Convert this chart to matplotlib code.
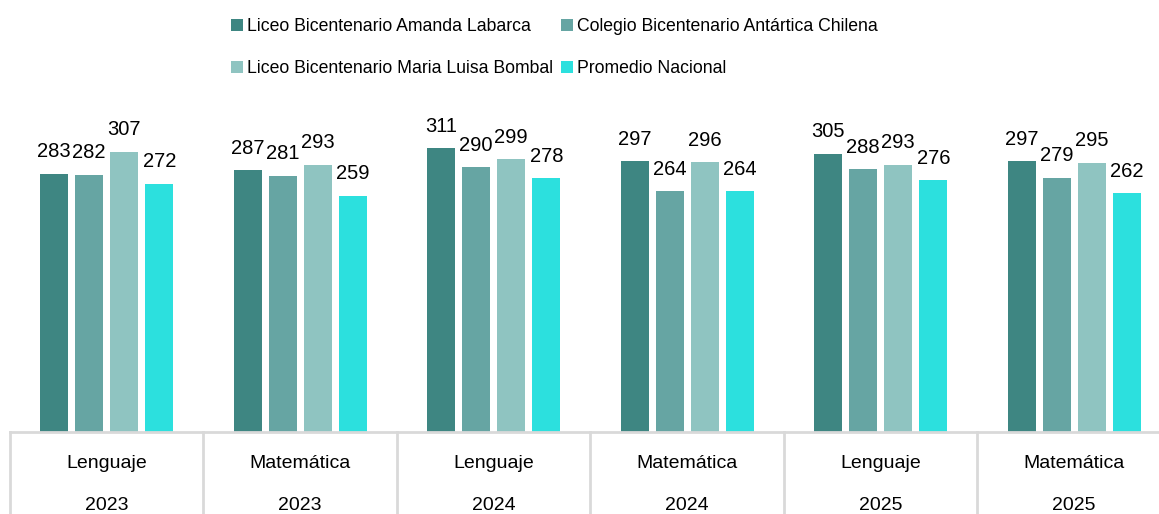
import matplotlib.pyplot as plt
import numpy as np

plt.rcParams['font.family'] = ['Liberation Sans', 'DejaVu Sans']

subjects = ["Lenguaje", "Matemática", "Lenguaje", "Matemática", "Lenguaje", "Matemática"]
years = ["2023", "2023", "2024", "2024", "2025", "2025"]
series_names = ["Liceo Bicentenario Amanda Labarca",
                "Colegio Bicentenario Antártica Chilena",
                "Liceo Bicentenario Maria Luisa Bombal",
                "Promedio Nacional"]
amanda = [283, 287, 311, 297, 305, 297]
antartica = [282, 281, 290, 264, 288, 279]
bombal = [307, 293, 299, 296, 293, 295]
nacional = [272, 259, 278, 264, 276, 262]
colors = ["#3E8682", "#66A5A3", "#8FC4C1", "#2CE0DE"]

fig = plt.figure(figsize=(11.59, 5.14), dpi=100)
ax = fig.add_axes([10 / 1159, 82 / 514, 1161 / 1159, 332 / 514])

x = np.arange(len(subjects))
slot = 0.181
width = 0.145
handles = []
for i, (vals, name) in enumerate(zip([amanda, antartica, bombal, nacional], series_names)):
    pos = x + (i - 1.5) * slot
    bars = ax.bar(pos, vals, width, color=colors[i], label=name)
    handles.append(bars)
    for p, v in zip(pos, vals):
        ax.annotate(str(v), (p, v), xytext=(0, 9), textcoords="offset points",
                    ha="center", va="bottom", fontsize=14.5)

ax.set_xlim(-0.5, len(subjects) - 0.5)
ax.set_ylim(0, 364)
for s in ["top", "right", "left", "bottom"]:
    ax.spines[s].set_visible(False)
ax.set_xticks([])
ax.set_yticks([])

# category axis line and separators
ax.axhline(0, color="#D9D9D9", lw=2, clip_on=False)
for k in range(len(subjects) + 1):
    ax.plot([k - 0.5, k - 0.5], [0, -0.26], transform=ax.get_xaxis_transform(),
            color="#D9D9D9", lw=2, clip_on=False)
for k in range(len(subjects)):
    ax.text(k, -0.095, subjects[k], transform=ax.get_xaxis_transform(),
            ha="center", va="center", fontsize=14)
    ax.text(k, -0.22, years[k], transform=ax.get_xaxis_transform(),
            ha="center", va="center", fontsize=14)

# legend filled row by row: reorder for matplotlib's column-major layout
order = [0, 2, 1, 3]
fig.legend(handles=[handles[i] for i in order], labels=[series_names[i] for i in order],
           loc="upper left", bbox_to_anchor=(215 / 1159, 1 - 2 / 514), ncol=2, frameon=False,
           fontsize=12.7, handlelength=0.7, handleheight=0.7, handletextpad=0.2,
           columnspacing=0.45, labelspacing=1.45)

fig.savefig("out.png", dpi=100)
